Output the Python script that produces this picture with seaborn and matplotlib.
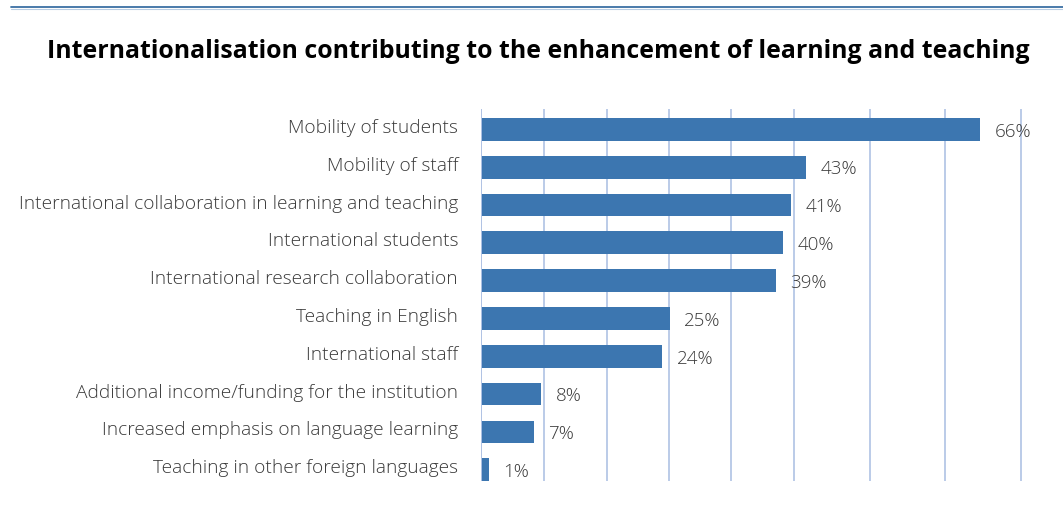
import matplotlib
matplotlib.use("Agg")
import matplotlib.pyplot as plt
import matplotlib.transforms as mtransforms
import seaborn as sns
import pandas as pd

# Survey answers and shares of institutions (%)
categories = [
    "Mobility of students",
    "Mobility of staff",
    "International collaboration in learning and teaching",
    "International students",
    "International research collaboration",
    "Teaching in English",
    "International staff",
    "Additional income/funding for the institution",
    "Increased emphasis on language learning",
    "Teaching in other foreign languages",
]
shares = [66, 43, 41, 40, 39, 25, 24, 8, 7, 1]
value_labels = [f"{v}%" for v in shares]
title = "Internationalisation contributing to the enhancement of learning and teaching"

df = pd.DataFrame({"category": categories, "share": shares})

sns.set_theme(style="white")
plt.rcParams["font.family"] = ["Open Sans", "DejaVu Sans"]

BAR = "#3C76B0"
GRID = "#AFC2E4"
TEXT = "#3A3A3A"

fig = plt.figure(figsize=(10.63, 5.11), dpi=100)
ax = fig.add_axes([481 / 1063, 30 / 511, 541.4 / 1063, 372 / 511])

sns.barplot(data=df, x="share", y="category", orient="h", color=BAR,
            width=0.6, saturation=1, linewidth=0, ax=ax, zorder=3)

ax.set_xlim(0, 71.6)
ax.set_ylim(9.3, -0.54)

# vertical guide lines
grid_at = [8.33, 16.6, 24.9, 33.1, 41.4, 51.4, 61.4, 71.42]
for g in grid_at:
    ax.axvline(g, color=GRID, lw=1.2, zorder=1)
ax.axvline(0, color=GRID, lw=1.4, zorder=4)

for s in ax.spines.values():
    s.set_visible(False)
ax.set_xticks([])
ax.set_xlabel("")
ax.set_ylabel("")
ax.tick_params(axis="y", length=0, pad=16.5, labelsize=13.75, labelcolor=TEXT)
lift = mtransforms.ScaledTranslation(0, 3.5 / 100, fig.dpi_scale_trans)
for lab in ax.get_yticklabels():
    lab.set_fontweight("light")
    lab.set_transform(lab.get_transform() + lift)

for i, (v, t) in enumerate(zip(shares, value_labels)):
    ax.text(v + 1.9, i + 0.06, t, va="center", ha="left", fontsize=13.5,
            color=TEXT, fontweight="light", zorder=5)

fig.text(0.5066, 1 - 51 / 511, title, ha="center", va="center",
         fontsize=17.9, fontweight="bold", color="black")

# header rule
fig.add_artist(plt.Line2D([10.5 / 1063, 1], [1 - 7.2 / 511] * 2,
                          transform=fig.transFigure, color="#3C70A4", lw=1.3))
fig.add_artist(plt.Line2D([10.5 / 1063, 1], [1 - 8.6 / 511] * 2,
                          transform=fig.transFigure, color="#B9CDE3", lw=0.8))

fig.savefig("out.png", dpi=100)
